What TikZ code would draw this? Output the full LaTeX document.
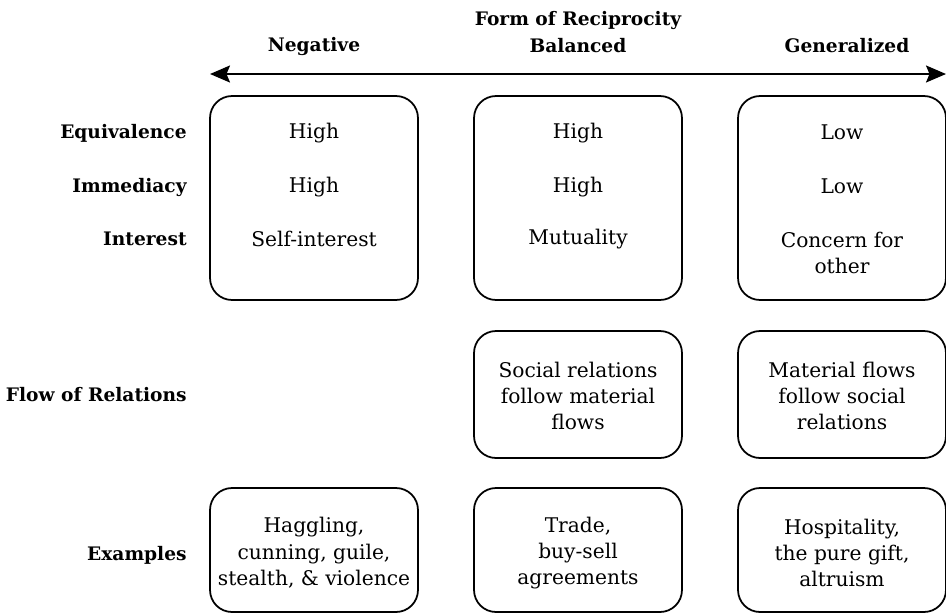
\documentclass[tikz,border=0pt]{standalone}
\usepackage{fontspec}
\setmainfont{DejaVu Serif}
\usepackage{tikz}
\usetikzlibrary{arrows.meta}
\tikzset{>=latex}
\tikzstyle{cell}=[draw,line width=1pt,rounded corners=0.44cm,inner sep=0pt,minimum width=4.16cm]
\tikzstyle{entry}=[font=\fontsize{11.5}{15}\selectfont,align=center,inner sep=0pt]
\tikzstyle{rowlabel}=[font=\bfseries\fontsize{10.6}{15}\selectfont,anchor=east,inner sep=0pt]
\tikzstyle{colhead}=[font=\bfseries\fontsize{10.6}{15}\selectfont,inner sep=0pt]

\begin{document}
\begin{tikzpicture}[x=0.02cm,y=-0.02cm]
  \useasboundingbox (0,0) rectangle (946,613);

  \node[colhead] (form) at (578,20) {Form of Reciprocity}; % axis heading
  \node[colhead] (neg) at (314,46) {Negative};
  \node[colhead] (bal) at (578,46) {Balanced};
  \node[colhead] (gen) at (847,46) {Generalized};

  \coordinate (axisL) at (210,74);
  \coordinate (axisR) at (946,74);
  \draw[{Stealth[length=0.4cm,width=0.34cm,inset=0.07cm]}-{Stealth[length=0.4cm,width=0.34cm,inset=0.07cm]},line width=1.1pt] (axisL) -- (axisR);

  % row labels
  \foreach \y/\lbl [count=\i] in {133/Equivalence,187/Immediacy,239/Interest,395/Flow of Relations,555/Examples}{
    \node[rowlabel] (row\i) at (187,\y) {\lbl};
  }

  % boxes
  \foreach \x/\col in {314/neg,578/bal,842/gen}{
    \node[cell,minimum height=4.08cm] (\col-top) at (\x,198) {};
  }
  \foreach \x/\col in {578/bal,842/gen}{
    \node[cell,minimum height=2.54cm] (\col-flow) at (\x,394.5) {};
  }
  \foreach \x/\col in {314/neg,578/bal,842/gen}{
    \node[cell,minimum height=2.48cm] (\col-ex) at (\x,550) {};
  }

  % entries
  \node[entry] (neg-eq) at (314,133) {High};
  \node[entry] (neg-im) at (314,187) {High};
  \node[entry] (neg-in) at (314,239) {Self-interest};
  \node[entry] (bal-eq) at (578,133) {High};
  \node[entry] (bal-im) at (578,187) {High};
  \node[entry] (bal-in) at (578,239) {Mutuality};
  \node[entry] (gen-eq) at (842,132) {Low};
  \node[entry] (gen-im) at (842,186) {Low};
  \node[entry] (gen-in) at (842,253) {Concern for\\other};

  \node[entry] (bal-fl) at (578,396) {Social relations\\follow material\\flows};
  \node[entry] (gen-fl) at (842,396) {Material flows\\follow social\\relations};

  \node[entry] (neg-xm) at (314,553) {Haggling,\\cunning, guile,\\stealth, \& violence};
  \node[entry] (bal-xm) at (578,553) {Trade,\\buy-sell\\agreements};
  \node[entry] (gen-xm) at (842,553) {Hospitality,\\the pure gift,\\altruism};

\end{tikzpicture}
\end{document}
